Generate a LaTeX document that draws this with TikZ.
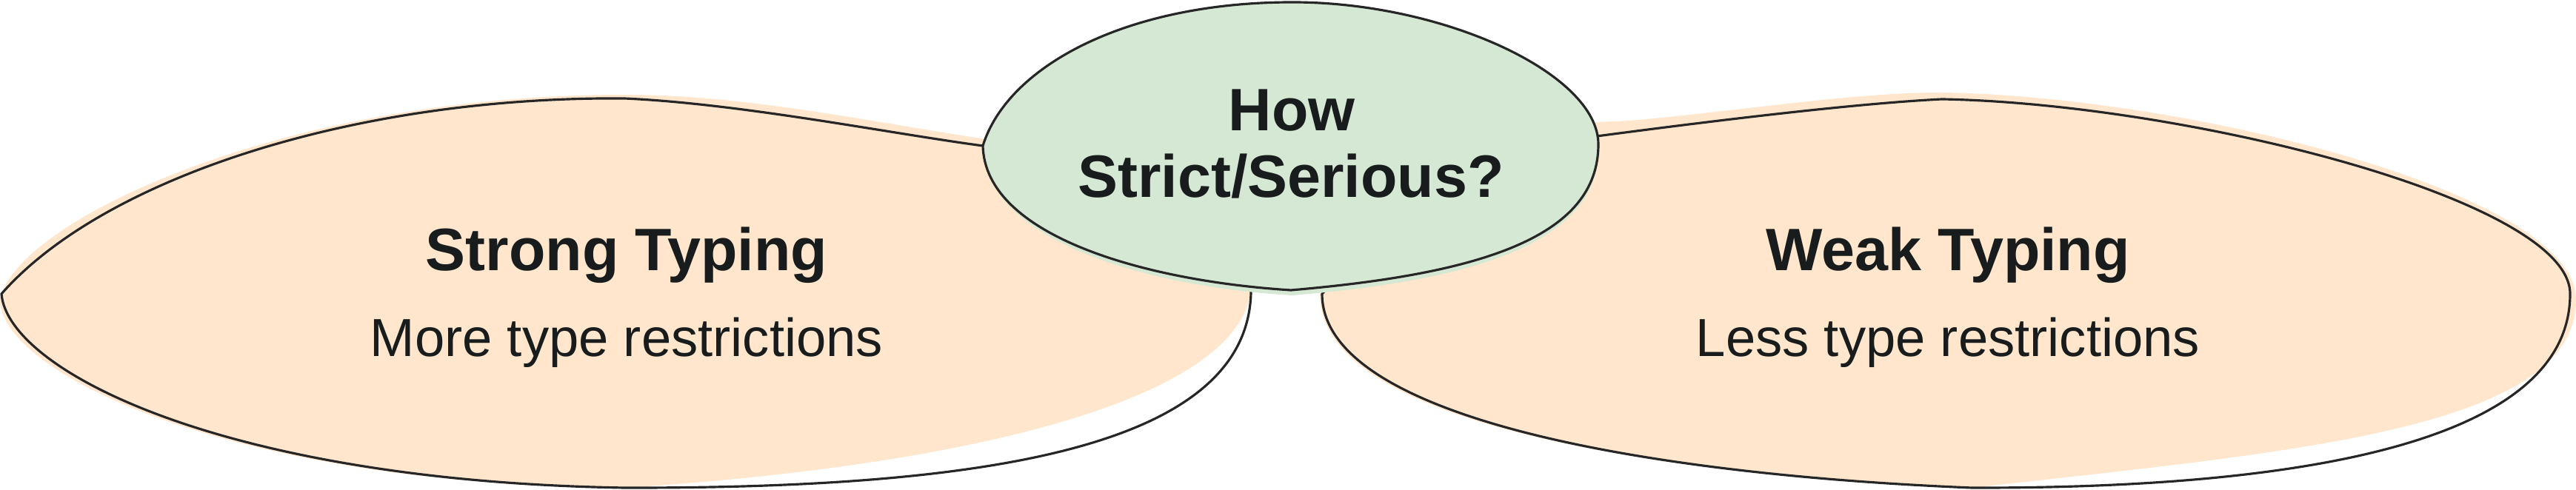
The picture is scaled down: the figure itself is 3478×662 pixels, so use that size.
\documentclass[tikz,border=0pt]{standalone}
\usepackage{fontspec}
\setmainfont{Liberation Sans}
\usetikzlibrary{positioning}
\definecolor{peach}{HTML}{FFE6CC}
\definecolor{sage}{HTML}{D5E8D4}
\definecolor{ink}{HTML}{181C1C}
\definecolor{pen}{HTML}{262626}

\begin{document}
\begin{tikzpicture}[x=0.01cm, y=-0.01cm,
    blobline/.style={draw=pen, line width=0.9pt, line join=round},
    title/.style={font=\fontsize{23}{26}\selectfont\bfseries, text=ink, anchor=base, inner sep=0pt},
    subtitle/.style={font=\fontsize{20.6}{24}\selectfont, text=ink, anchor=base, inner sep=0pt}]
    \useasboundingbox (0,0) rectangle (3478,662);
                \fill[peach] (0,405) .. controls (20,300) and (380,128) .. (843,128)
                    .. controls (1000,128) and (1150,160) .. (1330,188) -- (1500,250) -- (1690,380)
                    .. controls (1690,540) and (1300,630) .. (843,659)
                    .. controls (300,655) and (0,500) .. cycle;
                \fill[peach] (2050,170) -- (2200,163) .. controls (2350,150) and (2500,125) .. (2622,125)
                    .. controls (2950,130) and (3478,260) .. (3478,405)
                    .. controls (3478,580) and (3100,610) .. (2662,659)
                    .. controls (2200,640) and (1780,565) .. (1782,397) -- (1800,380) -- cycle;
                \draw[blobline] (1327,197) .. controls (1200,180) and (1000,140) .. (843,133)
                    .. controls (480,130) and (140,240) .. (2,397)
                    .. controls (10,500) and (300,650) .. (843,659)
                    .. controls (1350,660) and (1695,600) .. (1689,385);
                \draw[blobline] (2156,184) .. controls (2300,165) and (2500,140) .. (2622,134)
                    .. controls (2950,140) and (3470,270) .. (3470,397)
                    .. controls (3470,600) and (3100,660) .. (2662,659)
                    .. controls (2200,640) and (1785,560) .. (1785,397) -- (1794,388);
                \fill[sage] (1327,199) .. controls (1360,90) and (1520,3) .. (1745,3)
                    .. controls (1950,3) and (2159,100) .. (2159,198)
                    .. controls (2159,325) and (2000,378) .. (1745,399)
                    .. controls (1550,388) and (1330,325) .. cycle;
                \draw[blobline] (1327,197) .. controls (1360,90) and (1520,3) .. (1745,3)
                    .. controls (1950,3) and (2158,100) .. (2158,195)
                    .. controls (2158,320) and (2000,370) .. (1743,392)
                    .. controls (1550,380) and (1330,320) .. cycle;
                \foreach \nm/\x/\head/\sub in {strong/846/Strong Typing/More type restrictions, weak/2630/Weak Typing/Less type restrictions}{
                    \node[title] (\nm) at (\x,366) {\head};
                    \node[subtitle] (\nm-sub) at (\x,482) {\sub};
                }
                \node[title] (how) at (1744,177) {How};
                \node[title] (strict) at (1743,267) {Strict/Serious?};
            \end{tikzpicture}
\end{document}
